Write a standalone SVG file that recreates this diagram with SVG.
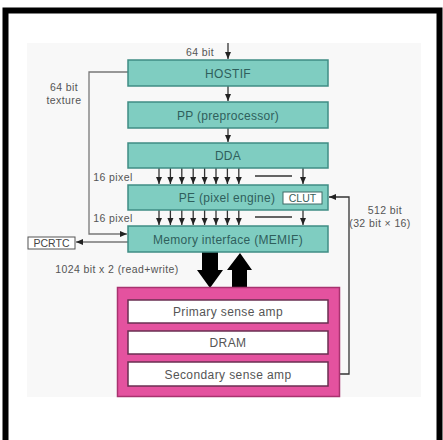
<svg xmlns="http://www.w3.org/2000/svg" width="443" height="440" viewBox="0 0 443 440">
<defs>
<style>
.t{font-family:"Liberation Sans",Arial,sans-serif;}
.box{fill:#7fcdc1;stroke:#3f8c84;stroke-width:1.5;}
.bt{font-size:12px;fill:#2f5f5c;text-anchor:middle;letter-spacing:0.3px;}
.lbl{font-size:10.5px;fill:#555;text-anchor:middle;letter-spacing:0.4px;}
.wb{fill:#fff;stroke:#6a2f52;stroke-width:1.5;}
.wt{font-size:12px;fill:#555;text-anchor:middle;letter-spacing:0.4px;}
.ln{fill:none;stroke:#333;stroke-width:1.3;}
.gl{fill:none;stroke:#777;stroke-width:1.3;}
</style>
<marker id="ah" markerWidth="8" markerHeight="8" refX="7" refY="4" orient="auto" markerUnits="userSpaceOnUse">
<path d="M0,1 L7,4 L0,7 Z" fill="#222"/>
</marker>
</defs>
<rect x="0" y="0" width="443" height="440" fill="#fff"/>
<rect x="27" y="43" width="394" height="354" fill="#f8f8f8"/>
<rect x="5.5" y="10.5" width="434" height="440" fill="none" stroke="#000" stroke-width="6"/>

<g id="connectors">
<line class="ln" x1="228" y1="43" x2="228" y2="59" marker-end="url(#ah)"/>
<line class="ln" x1="228" y1="86" x2="228" y2="101" marker-end="url(#ah)"/>
<line class="ln" x1="228" y1="128" x2="228" y2="142" marker-end="url(#ah)"/>
<g id="bus1">
<line class="ln" x1="159" y1="168" x2="159" y2="184" marker-end="url(#ah)"/>
<line class="ln" x1="170.4" y1="168" x2="170.4" y2="184" marker-end="url(#ah)"/>
<line class="ln" x1="181.8" y1="168" x2="181.8" y2="184" marker-end="url(#ah)"/>
<line class="ln" x1="193.2" y1="168" x2="193.2" y2="184" marker-end="url(#ah)"/>
<line class="ln" x1="204.6" y1="168" x2="204.6" y2="184" marker-end="url(#ah)"/>
<line class="ln" x1="216" y1="168" x2="216" y2="184" marker-end="url(#ah)"/>
<line class="ln" x1="227.4" y1="168" x2="227.4" y2="184" marker-end="url(#ah)"/>
<line class="ln" x1="238.8" y1="168" x2="238.8" y2="184" marker-end="url(#ah)"/>
<line class="ln" x1="255" y1="176" x2="292" y2="176" stroke-width="1"/>
<line class="ln" x1="303" y1="168" x2="303" y2="184" marker-end="url(#ah)"/>
</g>
<g id="bus2">
<line class="ln" x1="159" y1="210" x2="159" y2="225" marker-end="url(#ah)"/>
<line class="ln" x1="170.4" y1="210" x2="170.4" y2="225" marker-end="url(#ah)"/>
<line class="ln" x1="181.8" y1="210" x2="181.8" y2="225" marker-end="url(#ah)"/>
<line class="ln" x1="193.2" y1="210" x2="193.2" y2="225" marker-end="url(#ah)"/>
<line class="ln" x1="204.6" y1="210" x2="204.6" y2="225" marker-end="url(#ah)"/>
<line class="ln" x1="216" y1="210" x2="216" y2="225" marker-end="url(#ah)"/>
<line class="ln" x1="227.4" y1="210" x2="227.4" y2="225" marker-end="url(#ah)"/>
<line class="ln" x1="238.8" y1="210" x2="238.8" y2="225" marker-end="url(#ah)"/>
<line class="ln" x1="255" y1="217" x2="292" y2="217" stroke-width="1"/>
<line class="ln" x1="303" y1="210" x2="303" y2="225" marker-end="url(#ah)"/>
</g>
<polyline class="gl" points="128,72 89,72 89,234 127,234" marker-end="url(#ah)"/>
<line class="gl" x1="128" y1="242" x2="76" y2="242" marker-end="url(#ah)"/>
<polyline class="ln" points="328,374 349,374 349,197 329,197" marker-end="url(#ah)"/>
<path d="M202,252 H218 V270 H223 L210,288 L197,270 H202 Z" fill="#000"/>
<path d="M232,287 H247 V270 H252 L240,253 L227,270 H232 Z" fill="#000"/>
</g>

<g id="hostif"><rect class="box" x="128" y="60" width="200" height="26"/><text class="t bt" x="228" y="77.5">HOSTIF</text></g>
<g id="pp"><rect class="box" x="128" y="102" width="200" height="26"/><text class="t bt" x="228" y="119.5">PP (preprocessor)</text></g>
<g id="dda"><rect class="box" x="128" y="143" width="200" height="25"/><text class="t bt" x="228" y="160">DDA</text></g>
<g id="pe"><rect class="box" x="128" y="185" width="200" height="25"/><text class="t bt" x="227" y="202">PE (pixel engine)</text>
<g id="clut"><rect x="283" y="192" width="39" height="12" fill="#fff" stroke="#3f6b66" stroke-width="1"/><text class="t" x="302.5" y="201.8" font-size="10.5" fill="#3a5f5c" text-anchor="middle">CLUT</text></g></g>
<g id="memif"><rect class="box" x="128" y="226" width="200" height="26"/><text class="t bt" x="228" y="243.5">Memory interface (MEMIF)</text></g>
<g id="pcrtc"><rect x="28" y="237" width="47" height="12" fill="#fff" stroke="#555" stroke-width="1"/><text class="t" x="51.5" y="246.8" font-size="10.5" fill="#444" text-anchor="middle">PCRTC</text></g>

<g id="dram-block">
<rect x="117.5" y="287.5" width="222" height="109" fill="#e4529f" stroke="#a8336f" stroke-width="1.5"/>
<g id="primary"><rect class="wb" x="128" y="300" width="200" height="23"/><text class="t wt" x="228" y="316">Primary sense amp</text></g>
<g id="dram"><rect class="wb" x="128" y="331" width="200" height="23"/><text class="t wt" x="228" y="347">DRAM</text></g>
<g id="secondary"><rect class="wb" x="128" y="362" width="200" height="24"/><text class="t wt" x="228" y="378.5">Secondary sense amp</text></g>
</g>

<g id="labels">
<text class="t lbl" x="200" y="56">64 bit</text>
<text class="t lbl" x="64" y="91">64 bit</text>
<text class="t lbl" x="64" y="104">texture</text>
<text class="t lbl" x="113" y="181">16 pixel</text>
<text class="t lbl" x="113" y="222">16 pixel</text>
<text class="t lbl" x="385" y="214">512 bit</text>
<text class="t lbl" x="380" y="227">(32 bit × 16)</text>
<text class="t lbl" x="117" y="273">1024 bit x 2 (read+write)</text>
</g>
</svg>
